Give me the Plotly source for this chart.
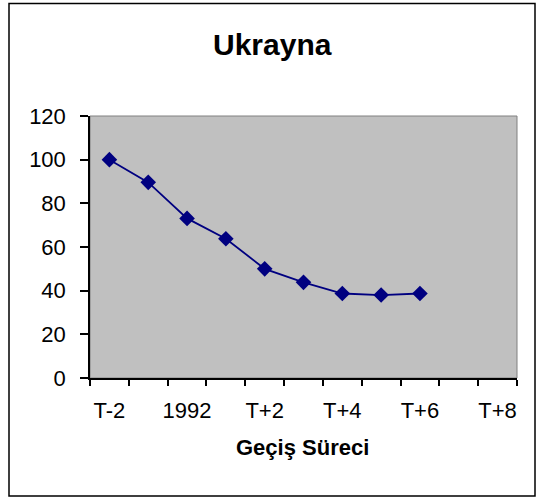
import plotly.graph_objects as go

categories = ["T-2", "T-1", "1992", "T+1", "T+2", "T+3", "T+4", "T+5", "T+6", "T+7", "T+8"]
values = [100, 89.6, 73.1, 63.8, 50.0, 43.8, 38.7, 38.0, 38.7]
label_every = 2
y_ticks = [0, 20, 40, 60, 80, 100, 120]

W, H = 543, 500
L, R, T, B = 90, 517, 116, 378
pw, ph = R - L, B - T

def px_x(px):
    return (px - L) / pw

def px_y(py):
    return (B - py) / ph

xpos = [i + 0.5 for i in range(len(values))]
label_idx = list(range(0, len(categories), label_every))

fig = go.Figure()
fig.add_trace(go.Scatter(
    x=xpos, y=values, mode="lines+markers",
    line=dict(color="#000080", width=1.8),
    marker=dict(symbol="diamond", size=12, color="#000080"),
    hoverinfo="skip", showlegend=False,
))

font = "Liberation Sans, Arial, sans-serif"
fig.update_layout(
    width=W, height=H,
    margin=dict(l=L, r=W - R, t=T, b=H - B),
    paper_bgcolor="white",
    plot_bgcolor="#C0C0C0",
    font=dict(family=font, color="black", size=22),
    showlegend=False,
    xaxis=dict(
        range=[0, len(categories)],
        tickvals=[i + 0.5 for i in label_idx],
        ticktext=[categories[i] for i in label_idx],
        ticks="", showgrid=False, zeroline=False,
        showline=True, linecolor="black", linewidth=1.5,
        tickfont=dict(size=22, family=font),
        ticklabelstandoff=12,
        minor=dict(tickvals=list(range(len(categories) + 1)), ticks="outside",
                   ticklen=6, tickcolor="black", tickwidth=1.5, showgrid=False),
        fixedrange=True,
    ),
    yaxis=dict(
        range=[0, 120], tickvals=y_ticks,
        ticks="outside", ticklen=8, tickcolor="black", tickwidth=1.5,
        showgrid=False, zeroline=False,
        showline=True, linecolor="black", linewidth=1.5,
        tickfont=dict(size=22, family=font),
        ticklabelstandoff=10,
        fixedrange=True,
    ),
    shapes=[
        dict(type="rect", xref="paper", yref="paper", x0=0, x1=1, y0=0, y1=1,
             line=dict(color="#808080", width=1), layer="below"),
        dict(type="rect", xref="paper", yref="paper",
             x0=px_x(9), x1=px_x(535), y0=px_y(496), y1=px_y(3.5),
             line=dict(color="black", width=1.5), layer="above"),
    ],
    annotations=[
        dict(text="<b>Ukrayna</b>", xref="paper", yref="paper",
             x=px_x(272.5), y=px_y(45), xanchor="center", yanchor="middle",
             showarrow=False, font=dict(size=30, family=font)),
        dict(text="<b>Geçiş Süreci</b>", xref="paper", yref="paper",
             x=px_x(302.5), y=px_y(447), xanchor="center", yanchor="middle",
             showarrow=False, font=dict(size=22, family=font)),
    ],
)

fig.write_html("out.html", config={"displayModeBar": False},
               post_script="document.body.style.margin='0';document.body.style.padding='0';")
